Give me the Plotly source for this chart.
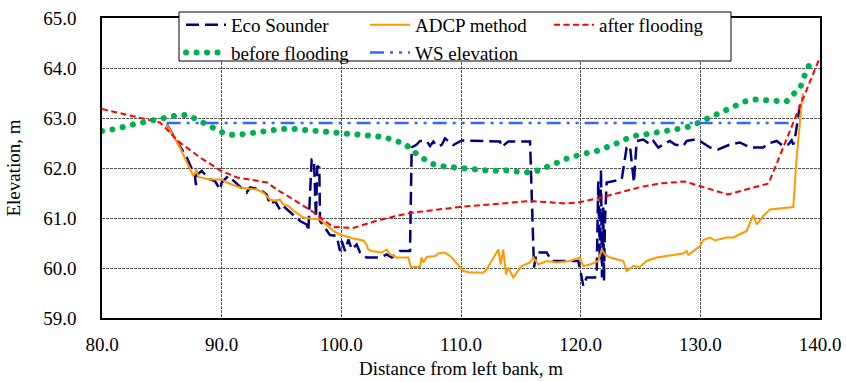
import plotly.graph_objects as go

# ---------------- data ----------------
eco_x = [85.41, 87.08, 87.77, 87.85, 87.96, 88.33, 89.02, 89.44, 89.86, 90.0, 90.55, 91.39, 92.09, 92.37,
         93.2, 93.76, 94.04, 94.46, 94.87, 95.15, 95.57, 95.99, 96.55, 97.1, 97.24, 97.52, 97.71, 97.88,
         97.99, 98.16, 98.22, 99.05, 99.61, 99.89, 100.03, 100.31, 100.59, 100.87, 101.28, 101.56, 102.1,
         103.23, 103.79, 104.21, 104.9, 105.74, 105.88, 106.3, 106.57, 107.13, 107.41, 107.69, 107.97,
         108.39, 108.66, 109.36, 110.05, 112.42, 113.26, 113.4, 113.95, 115.77, 115.82, 116.1, 116.32,
         117.16, 117.58, 119.8, 120.09, 120.22, 120.5, 121.2, 121.34, 121.47, 121.61, 121.7, 121.78,
         121.89, 121.95, 122.03, 122.17, 122.73, 123.43, 123.84, 124.12, 124.45, 124.68, 125.23, 125.8,
         126.07, 126.49, 127.05, 127.46, 127.88, 128.57, 128.86, 129.55, 129.97, 130.81, 131.5, 132.48,
         133.31, 134.15, 135.26, 135.68, 136.38, 136.93, 137.35, 137.63, 137.77, 137.97, 138.33, 138.52]
eco_y = [62.87, 62.21, 61.84, 61.66, 61.87, 61.94, 61.77, 61.74, 61.57, 61.71, 61.84, 61.67, 61.51, 61.61,
         61.57, 61.47, 61.27, 61.34, 61.17, 61.24, 61.14, 61.06, 60.94, 60.87, 60.74, 62.17, 62.17, 61.01,
         62.04, 62.01, 60.94, 60.66, 60.64, 60.34, 60.54, 60.34, 60.57, 60.37, 60.47, 60.31, 60.21,
         60.21, 60.27, 60.21, 60.34, 60.34, 62.41, 62.47, 62.54, 62.54, 62.44, 62.53, 62.44,
         62.46, 62.59, 62.46, 62.55, 62.53, 62.53, 62.42, 62.53, 62.53, 62.07, 60.01, 60.31,
         60.31, 60.14, 60.14, 59.81, 59.64, 59.81, 59.81, 59.91, 61.74, 60.14, 61.97, 59.81,
         61.21, 59.74, 60.94, 61.71, 61.74, 61.77, 62.41, 62.44, 61.71, 62.54, 62.57, 62.47,
         62.54, 62.41, 62.49, 62.54, 62.47, 62.44, 62.54, 62.57, 62.54, 62.41, 62.37, 62.47,
         62.51, 62.41, 62.41, 62.49, 62.54, 62.44, 62.47, 62.55, 62.47, 62.69, 63.27, 63.41]

adcp_x = [85.41, 86.52, 87.63, 87.91, 88.05, 89.02, 90.0, 90.42, 91.53, 92.93, 93.48, 94.04, 94.46, 94.87,
          95.15, 95.57, 95.99, 96.82, 97.38, 98.22, 99.33, 99.89, 101.0, 101.84, 102.1, 102.25, 102.54,
          103.37, 103.79, 104.07, 104.63, 105.6, 105.8, 106.57, 106.71, 106.85, 107.13, 107.83, 108.1,
          108.66, 109.22, 110.19, 110.75, 111.86, 112.14, 112.7, 113.12, 113.32, 113.53, 113.76, 113.95,
          114.37, 115.07, 115.77, 116.04, 116.46, 117.16, 117.99, 119.1, 119.94, 120.22, 120.78, 121.47,
          121.76, 122.03, 122.45, 123.56, 123.84, 124.4, 124.96, 125.51, 126.35, 127.74, 128.57, 128.86,
          128.99, 129.97, 130.25, 130.81, 131.22, 132.2, 132.76, 133.87, 134.42, 134.71, 135.26, 135.82,
          136.8, 137.77, 138.05, 138.55]
adcp_y = [62.87, 62.41, 61.84, 61.97, 61.82, 61.77, 61.77, 61.71, 61.61, 61.57, 61.51, 61.37, 61.34, 61.37,
          61.27, 61.24, 61.15, 61.01, 60.99, 60.97, 60.74, 60.67, 60.59, 60.55, 60.47, 60.37, 60.34,
          60.31, 60.37, 60.27, 60.21, 60.21, 60.02, 60.02, 60.21, 60.11, 60.22, 60.24, 60.29,
          60.31, 60.21, 59.94, 59.91, 59.91, 59.97, 60.21, 60.37, 60.07, 60.37, 59.87, 60.01,
          59.81, 60.04, 60.11, 60.21, 60.07, 60.14, 60.11, 60.14, 60.21, 60.04, 60.07, 60.14,
          60.37, 60.27, 60.21, 60.14, 59.94, 60.04, 60.02, 60.14, 60.21, 60.26, 60.29, 60.34,
          60.26, 60.44, 60.56, 60.61, 60.55, 60.61, 60.61, 60.74, 61.06, 60.87, 61.04, 61.17,
          61.19, 61.22, 62.21, 63.5]

after_x = [80.0, 84.85, 86.5, 88.2, 89.9, 91.3, 93.8, 94.6, 96.0, 97.7, 99.3, 101.0, 103.0, 105.7, 109.9,
           112.4, 115.8, 118.8, 120.0, 121.9, 125.0, 126.6, 128.7, 132.3, 135.7, 140.0]
after_y = [63.18, 62.91, 62.51, 62.21, 61.95, 61.81, 61.71, 61.57, 61.37, 61.11, 60.82, 60.80, 60.95, 61.10,
           61.22, 61.27, 61.34, 61.29, 61.32, 61.42, 61.62, 61.69, 61.73, 61.47, 61.69, 64.22]

before_x = [80.0, 81.2, 82.0, 82.9, 83.8, 84.7, 85.5, 86.4, 87.2, 88.0, 88.8, 89.6, 90.4, 91.3, 92.1, 93.0,
            93.9, 94.7, 95.6, 96.5, 97.4, 98.3, 99.2, 100.1, 101.0, 101.9, 102.8, 103.6, 104.4, 105.3,
            105.9, 106.7, 107.4, 108.2, 109.1, 110.0, 110.9, 111.7, 112.6, 113.5, 114.4, 115.3, 116.2,
            117.0, 117.8, 118.6, 119.4, 120.3, 121.1, 122.0, 122.8, 123.6, 124.4, 125.3, 126.2, 127.1,
            127.9, 128.8, 129.7, 130.5, 131.3, 132.1, 132.9, 133.7, 134.5, 135.4, 136.3, 137.2, 137.8,
            138.4, 138.7, 139.1, 139.4]
before_y = [62.74, 62.78, 62.84, 62.88, 62.92, 62.96, 63.0, 63.06, 63.06, 62.95, 62.86, 62.77, 62.67, 62.66,
            62.69, 62.71, 62.74, 62.77, 62.79, 62.77, 62.75, 62.73, 62.71, 62.69, 62.69, 62.67, 62.65,
            62.62, 62.55, 62.49, 62.35, 62.22, 62.1, 62.04, 62.02, 62.0, 61.98, 61.94, 61.94, 61.96,
            61.94, 61.91, 61.93, 61.99, 62.08, 62.17, 62.24, 62.29, 62.32, 62.39, 62.47, 62.56, 62.64,
            62.67, 62.71, 62.74, 62.77, 62.81, 62.89, 62.98, 63.07, 63.15, 63.25, 63.33, 63.37, 63.36,
            63.35, 63.33, 63.48, 63.64, 63.84, 64.03, 64.23]

ws_x = [85.4, 137.5]
ws_y = [62.9, 62.9]

x_ticks = [80, 90, 100, 110, 120, 130, 140]
y_ticks = [59, 60, 61, 62, 63, 64, 65]

FONT = "Liberation Serif"

fig = go.Figure()
fig.add_trace(go.Scatter(x=eco_x, y=eco_y, mode="lines", name="Eco Sounder",
                         line=dict(color="#000080", width=2.5, dash="13px,6px")))
fig.add_trace(go.Scatter(x=adcp_x, y=adcp_y, mode="lines", name="ADCP method",
                         line=dict(color="#FF9900", width=2)))
fig.add_trace(go.Scatter(x=after_x, y=after_y, mode="lines", name="after flooding",
                         line=dict(color="#FF0000", width=2, dash="6px,3.5px")))
fig.add_trace(go.Scatter(x=before_x, y=before_y, mode="lines", name="before flooding",
                         line=dict(color="#00B050", width=6, dash="0.1px,10.4px")))
fig.add_trace(go.Scatter(x=ws_x, y=ws_y, mode="lines", name="WS elevation",
                         line=dict(color="#3366FF", width=2.5, dash="14px,6px,3px,6px,3px,6px")))

L, R, T, B = 102, 26, 18, 64
W, H = 846, 382
pw, ph = W - L - R, H - T - B

def px2paper_x(px):
    return (px - L) / pw

def px2paper_y(py):
    return (H - B - py) / ph

fig.add_shape(type="rect", xref="paper", yref="paper",
              x0=px2paper_x(179), x1=px2paper_x(731), y0=px2paper_y(61), y1=px2paper_y(12),
              fillcolor="white", line=dict(color="black", width=1), layer="above")

fig.update_layout(
    width=W, height=H,
    margin=dict(l=L, r=R, t=T, b=B, autoexpand=False),
    paper_bgcolor="white", plot_bgcolor="white",
    font=dict(family=FONT, size=19, color="black"),
    showlegend=True,
    legend=dict(orientation="h", x=px2paper_x(181), y=px2paper_y(6), xanchor="left", yanchor="top",
                bgcolor="rgba(0,0,0,0)", borderwidth=0, itemwidth=40, entrywidth=129,
                font=dict(family=FONT, size=19, color="black"), tracegroupgap=0),
    xaxis=dict(range=[80, 140], tickvals=x_ticks, tickformat=".1f", showgrid=True,
               gridcolor="#555555", griddash="3px,1px", gridwidth=1, zeroline=False,
               showline=True, linecolor="black", linewidth=1.5, mirror=True, ticks="",
               ticklabelstandoff=8, automargin=False,
               title=dict(text="Distance from left bank, m", standoff=8, font=dict(size=19))),
    yaxis=dict(range=[59, 65], tickvals=y_ticks, tickformat=".1f", showgrid=True,
               gridcolor="#555555", griddash="3px,1px", gridwidth=1, zeroline=False,
               showline=True, linecolor="black", linewidth=1.5, mirror=True, ticks="",
               ticklabelstandoff=20, automargin=False,
               title=dict(text="Elevation, m", standoff=18, font=dict(size=19))),
)

post = """
document.body.style.margin='0';
document.body.style.padding='0';
var s=document.createElement('style');
s.innerHTML='html,body{margin:0;padding:0;overflow:hidden;} path.js-line[style*="0.1px"]{stroke-linecap:round !important;}';
document.head.appendChild(s);
"""
fig.write_html("out.html", post_script=post, config={"displayModeBar": False})
